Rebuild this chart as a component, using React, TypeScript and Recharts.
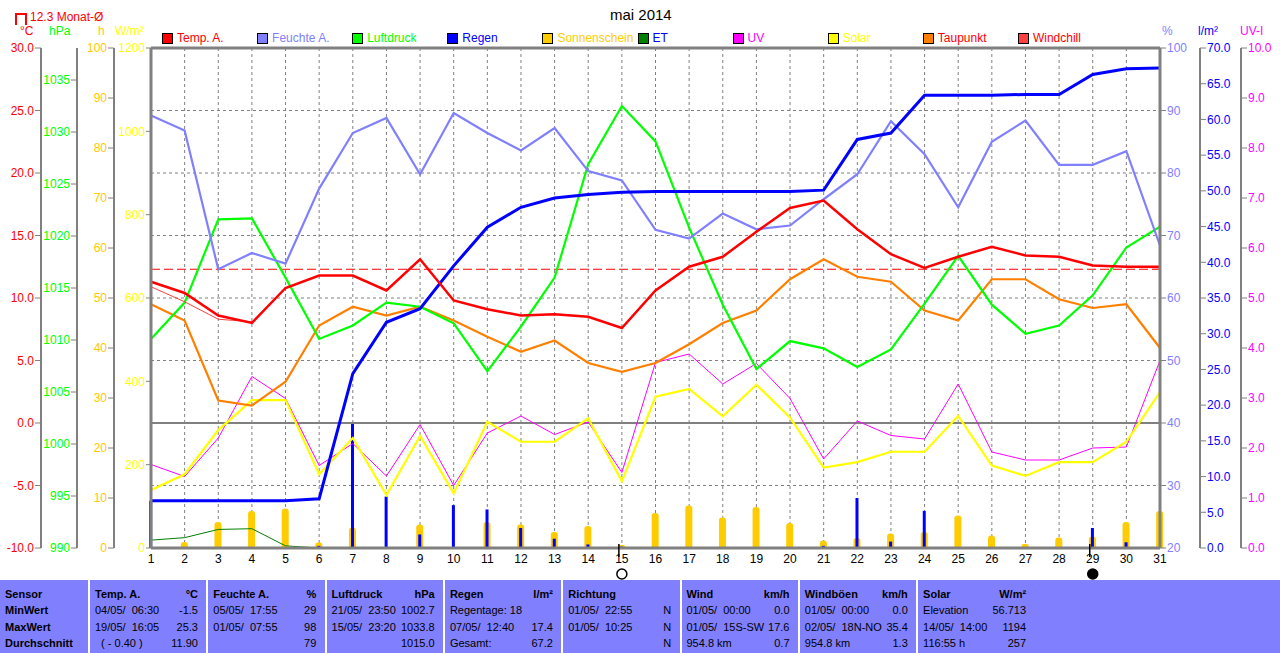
import {
  ComposedChart,
  Line,
  Bar,
  XAxis,
  YAxis,
  CartesianGrid,
  ReferenceLine,
} from "recharts";

// daily values, mai 2014
const DAYS = [1, 2, 3, 4, 5, 6, 7, 8, 9, 10, 11, 12, 13, 14, 15, 16, 17, 18, 19, 20, 21, 22, 23, 24, 25, 26, 27, 28, 29, 30, 31];
const TEMP = [11.3, 10.4, 8.6, 8.0, 10.8, 11.8, 11.8, 10.6, 13.1, 9.8, 9.1, 8.6, 8.7, 8.5, 7.6, 10.6, 12.5, 13.3, 15.3, 17.2, 17.8, 15.5, 13.5, 12.4, 13.3, 14.1, 13.4, 13.3, 12.6, 12.5, 12.5];
const WINDCHILL = [10.9, 9.7, 8.3, 8.1, 10.8, 11.8, 11.8, 10.6, 13.1, 9.8, 9.1, 8.6, 8.7, 8.5, 7.6, 10.6, 12.5, 13.3, 15.3, 17.2, 17.8, 15.5, 13.5, 12.4, 13.3, 14.1, 13.4, 13.3, 12.6, 12.5, 12.4];
const DEWPOINT = [9.5, 8.2, 1.8, 1.4, 3.3, 7.8, 9.3, 8.6, 9.3, 8.2, 6.9, 5.7, 6.6, 4.8, 4.1, 4.8, 6.3, 8.0, 9.0, 11.5, 13.1, 11.7, 11.3, 9.0, 8.2, 11.5, 11.5, 9.9, 9.2, 9.5, 6.0];
const HUMIDITY = [89.2, 86.8, 64.6, 67.2, 65.5, 77.5, 86.4, 88.8, 79.8, 89.6, 86.4, 83.6, 87.2, 80.3, 78.8, 70.9, 69.5, 73.5, 71.0, 71.6, 75.8, 79.8, 88.3, 83.0, 74.5, 85.0, 88.4, 81.3, 81.3, 83.5, 68.4];
const PRESSURE = [1010.1, 1013.6, 1021.6, 1021.7, 1016.0, 1010.1, 1011.4, 1013.6, 1013.2, 1011.6, 1007.0, 1011.3, 1016.0, 1026.9, 1032.5, 1029.1, 1020.8, 1013.4, 1007.2, 1009.9, 1009.2, 1007.4, 1009.1, 1013.5, 1018.1, 1013.4, 1010.6, 1011.4, 1014.3, 1018.9, 1020.9];
const RAIN_TOTAL = [6.6, 6.6, 6.6, 6.6, 6.6, 6.9, 24.4, 31.6, 33.5, 39.5, 44.9, 47.7, 49.0, 49.5, 49.8, 49.9, 49.9, 49.9, 49.9, 49.9, 50.1, 57.2, 58.1, 63.4, 63.4, 63.4, 63.5, 63.5, 66.3, 67.1, 67.2];
const RAIN_DAY = [6.6, 0, 0, 0, 0, 0.3, 17.4, 7.2, 1.9, 6.0, 5.4, 2.8, 1.3, 0.5, 0.2, 0, 0, 0, 0, 0, 0.3, 7.0, 0.9, 5.2, 0, 0, 0.1, 0, 2.8, 0.8, 0];
const SUN_HOURS = [0, 1.2, 5.2, 7.4, 7.9, 1.1, 4.1, 0, 4.7, 0, 5.2, 4.7, 3.2, 4.4, 0.6, 7.0, 8.5, 6.1, 8.2, 5.0, 1.5, 2.0, 2.9, 3.2, 6.5, 2.5, 0.8, 2.1, 2.3, 5.2, 7.4];
const ET = [1.1, 1.45, 2.6, 2.7, 0.3, 0, null, null, null, null, null, null, null, null, null, null, null, null, null, null, null, null, null, null, null, null, null, null, null, null, null];
const UV = [1.67, 1.43, 2.2, 3.43, 2.99, 1.65, 2.09, 1.44, 2.47, 1.25, 2.3, 2.64, 2.27, 2.52, 1.51, 3.71, 3.88, 3.28, 3.69, 2.99, 1.78, 2.54, 2.25, 2.18, 3.28, 1.92, 1.76, 1.76, 2.0, 2.02, 3.75];
const SOLAR = [139, 177, 283, 355, 355, 177, 264, 127, 269, 131, 303, 255, 255, 311, 160, 363, 382, 316, 392, 313, 193, 206, 231, 231, 317, 198, 173, 206, 206, 255, 374];

const MONTH_AVG = 12.3;
const FULL_MOON = 15;
const NEW_MOON = 29;

// tick labels of the seven axes
const TEMP_TICKS = [-10, -5, 0, 5, 10, 15, 20, 25, 30];
const HPA_TICKS = [990, 995, 1000, 1005, 1010, 1015, 1020, 1025, 1030, 1035];
const HOUR_TICKS = [0, 10, 20, 30, 40, 50, 60, 70, 80, 90, 100];
const WATT_TICKS = [0, 200, 400, 600, 800, 1000, 1200];
const HUM_TICKS = [20, 30, 40, 50, 60, 70, 80, 90, 100];
const RAIN_TICKS = [0, 5, 10, 15, 20, 25, 30, 35, 40, 45, 50, 55, 60, 65, 70];
const UV_TICKS = [0, 1, 2, 3, 4, 5, 6, 7, 8, 9, 10];

const LEGEND = [
  { label: "Temp. A.", box: "#ff0000", text: "#ff0000" },
  { label: "Feuchte A.", box: "#8080ff", text: "#8080ff" },
  { label: "Luftdruck", box: "#00ff00", text: "#00ff00" },
  { label: "Regen", box: "#0000ff", text: "#0000ff" },
  { label: "Sonnenschein", box: "#ffcc00", text: "#ffcc00" },
  { label: "ET", box: "#008000", text: "#0000ff" },
  { label: "UV", box: "#ff00ff", text: "#ff00ff" },
  { label: "Solar", box: "#ffff00", text: "#ffff00" },
  { label: "Taupunkt", box: "#ff8000", text: "#ff0000" },
  { label: "Windchill", box: "#ff4040", text: "#ff0000" },
];

const TABLE = [
  { head: "Temp. A.", unit: "°C", rows: [["04/05/  06:30", "-1.5"], ["19/05/  16:05", "25.3"], ["  ( - 0.40 )", "11.90"]] },
  { head: "Feuchte A.", unit: "%", rows: [["05/05/  17:55", "29"], ["01/05/  07:55", "98"], ["", "79"]] },
  { head: "Luftdruck", unit: "hPa", rows: [["21/05/  23:50", "1002.7"], ["15/05/  23:20", "1033.8"], ["", "1015.0"]] },
  { head: "Regen", unit: "l/m²", rows: [["Regentage: 18", ""], ["07/05/  12:40", "17.4"], ["Gesamt:", "67.2"]] },
  { head: "Richtung", unit: "", rows: [["01/05/  22:55", "N"], ["01/05/  10:25", "N"], ["", "N"]] },
  { head: "Wind", unit: "km/h", rows: [["01/05/  00:00", "0.0"], ["01/05/  15S-SW", "17.6"], ["954.8 km", "0.7"]] },
  { head: "Windböen", unit: "km/h", rows: [["01/05/  00:00", "0.0"], ["02/05/  18N-NO", "35.4"], ["954.8 km", "1.3"]] },
  { head: "Solar", unit: "W/m²", rows: [["Elevation", "56.713"], ["14/05/  14:00", "1194"], ["116:55 h", "257"]] },
];
const ROW_NAMES = ["Sensor", "MinWert", "MaxWert", "Durchschnitt"];

const FONT = '"Liberation Sans", Arial, sans-serif';
const GRAY = "#808080";

// axis ids sort in placement order (nearest to the plot first)
const AX_W = "a_w";
const AX_H = "b_h";
const AX_P = "c_p";
const AX_T = "d_t";
const AX_HUM = "e_hum";
const AX_RAIN = "f_rain";
const AX_UV = "g_uv";

const chartData = DAYS.map((day, i) => ({
  day,
  temp: TEMP[i],
  windchill: WINDCHILL[i],
  dew: DEWPOINT[i],
  hum: HUMIDITY[i],
  hpa: PRESSURE[i],
  rainTotal: RAIN_TOTAL[i],
  rainDay: RAIN_DAY[i],
  sun: SUN_HOURS[i],
  et: ET[i],
  uv: UV[i],
  solar: SOLAR[i],
}));

const DayTick = ({ x, y, payload }: any) => {
  const d = payload.value;
  const moon = d === FULL_MOON || d === NEW_MOON;
  return (
    <g>
      <text x={x} y={y} dy={11} textAnchor="middle" fontSize={12} fill="#000" fontFamily={FONT}>
        {d}
      </text>
      {moon && <line x1={x - 3} x2={x - 3} y1={y - 8} y2={y + 5} stroke="#000" strokeWidth={1.5} />}
      {moon && (
        <circle cx={x} cy={y + 22} r={5} fill={d === NEW_MOON ? "#000" : "#fff"} stroke="#000" strokeWidth={1.5} />
      )}
    </g>
  );
};

const tickStyle = (fill: string) => ({ fill, fontSize: 12, fontFamily: FONT });
const axisLine = { stroke: GRAY, strokeWidth: 2 };
const frameLine = { stroke: GRAY, strokeWidth: 3 };
const lineProps = { dot: false, activeDot: false, isAnimationActive: false, xAxisId: "d" } as const;

const Unit = ({ x, color, children }: { x: number; color: string; children: string }) => (
  <div style={{ position: "absolute", left: x, top: 24, fontSize: 12, color, whiteSpace: "nowrap" }}>{children}</div>
);

export default function App() {
  return (
    <div style={{ position: "relative", width: 1280, height: 653, background: "#fff", fontFamily: FONT, overflow: "hidden" }}>
      <style>{"body{margin:0}"}</style>

      <ComposedChart width={1280} height={580} data={chartData} margin={{ top: 48, right: 0, bottom: 0, left: 0 }}>
        <CartesianGrid yAxisId={AX_T} xAxisId="d" stroke={GRAY} strokeDasharray="3 3" />

        <XAxis
          xAxisId="d"
          dataKey="day"
          type="number"
          domain={[1, 31]}
          ticks={DAYS}
          interval={0}
          height={32}
          axisLine={frameLine}
          tickLine={false}
          tickSize={4}
          tickMargin={0}
          tick={DayTick}
        />
        <XAxis xAxisId="r" dataKey="day" type="number" domain={[1, 31]} ticks={DAYS} hide />

        <YAxis yAxisId={AX_W} orientation="left" width={37} domain={[0, 1200]} ticks={WATT_TICKS} interval={0}
          axisLine={frameLine} tickLine={{ stroke: GRAY }} tickSize={5} tickMargin={1} tick={tickStyle("#ffff00")} />
        <YAxis yAxisId={AX_H} orientation="left" width={37} domain={[0, 100]} ticks={HOUR_TICKS} interval={0}
          axisLine={axisLine} tickLine={{ stroke: GRAY }} tickSize={6} tickMargin={1} tick={tickStyle("#ffc800")} />
        <YAxis yAxisId={AX_P} orientation="left" width={36} domain={[990, 1038.08]} ticks={HPA_TICKS} interval={0}
          axisLine={axisLine} tickLine={{ stroke: GRAY }} tickSize={6} tickMargin={1} tick={tickStyle("#00ff00")} />
        <YAxis yAxisId={AX_T} orientation="left" width={41} domain={[-10, 30]} ticks={TEMP_TICKS} interval={0}
          axisLine={axisLine} tickLine={{ stroke: GRAY }} tickSize={6} tickMargin={1} tick={tickStyle("#ff0000")}
          tickFormatter={(v: number) => v.toFixed(1)} />

        <YAxis yAxisId={AX_HUM} orientation="right" width={40} domain={[20, 100]} ticks={HUM_TICKS} interval={0}
          axisLine={frameLine} tickLine={{ stroke: GRAY }} tickSize={6} tickMargin={1} tick={tickStyle("#8080ff")} />
        <YAxis yAxisId={AX_RAIN} orientation="right" width={41} domain={[0, 70]} ticks={RAIN_TICKS} interval={0}
          axisLine={axisLine} tickLine={{ stroke: GRAY }} tickSize={6} tickMargin={1} tick={tickStyle("#0000ff")}
          tickFormatter={(v: number) => v.toFixed(1)} />
        <YAxis yAxisId={AX_UV} orientation="right" width={39} domain={[0, 10]} ticks={UV_TICKS} interval={0}
          axisLine={axisLine} tickLine={{ stroke: GRAY }} tickSize={6} tickMargin={1} tick={tickStyle("#ff00ff")}
          tickFormatter={(v: number) => v.toFixed(1)} />

        <ReferenceLine yAxisId={AX_T} xAxisId="d" y={0} stroke={GRAY} strokeWidth={2} />
        <ReferenceLine yAxisId={AX_T} xAxisId="d" y={MONTH_AVG} stroke="#ff0000" strokeDasharray="9 4" />
        <ReferenceLine yAxisId={AX_T} xAxisId="d" y={30} stroke={GRAY} strokeWidth={3} />

        <Bar xAxisId="d" yAxisId={AX_H} dataKey="sun" fill="#ffcc00" barSize={7} radius={[3, 3, 0, 0]} isAnimationActive={false} />
        <Bar xAxisId="r" yAxisId={AX_RAIN} dataKey="rainDay" fill="#0000ff" barSize={3} isAnimationActive={false} />

        <Line {...lineProps} yAxisId={AX_RAIN} dataKey="et" stroke="#008000" strokeWidth={1} />
        <Line {...lineProps} yAxisId={AX_UV} dataKey="uv" stroke="#ff00ff" strokeWidth={1} />
        <Line {...lineProps} yAxisId={AX_W} dataKey="solar" stroke="#ffff00" strokeWidth={2.2} />
        <Line {...lineProps} yAxisId={AX_T} dataKey="dew" stroke="#ff8000" strokeWidth={2.2} />
        <Line {...lineProps} yAxisId={AX_P} dataKey="hpa" stroke="#00ff00" strokeWidth={2.2} />
        <Line {...lineProps} yAxisId={AX_HUM} dataKey="hum" stroke="#8080ff" strokeWidth={2.2} />
        <Line {...lineProps} yAxisId={AX_RAIN} dataKey="rainTotal" stroke="#0000ff" strokeWidth={3} />
        <Line {...lineProps} yAxisId={AX_T} dataKey="windchill" stroke="#ff4040" strokeWidth={1} />
        <Line {...lineProps} yAxisId={AX_T} dataKey="temp" stroke="#ff0000" strokeWidth={2.5} />
      </ComposedChart>

      {/* titles and axis units */}
      <div style={{ position: "absolute", left: 610, top: 6, fontSize: 15, color: "#000" }}>mai 2014</div>
      <div style={{ position: "absolute", left: 15, top: 13, width: 8, height: 10, borderTop: "2px solid #ff0000", borderLeft: "2px solid #ff0000", borderRight: "2px solid #ff0000" }} />
      <div style={{ position: "absolute", left: 30, top: 10, fontSize: 12, color: "#ff0000" }}>12.3 Monat-Ø</div>
      <Unit x={20} color="#ff0000">°C</Unit>
      <Unit x={49} color="#00ff00">hPa</Unit>
      <Unit x={98} color="#ffc800">h</Unit>
      <Unit x={115} color="#ffff00">W/m²</Unit>
      <Unit x={1162} color="#8080ff">%</Unit>
      <Unit x={1198} color="#0000ff">l/m²</Unit>
      <Unit x={1240} color="#ff00ff">UV-I</Unit>

      {/* legend */}
      {LEGEND.map((item, i) => (
        <div key={item.label} style={{ position: "absolute", left: 162 + i * 95.1, top: 31, display: "flex", alignItems: "center", whiteSpace: "nowrap" }}>
          <span style={{ width: 9, height: 9, background: item.box, border: "1px solid #000", marginRight: 4 }} />
          <span style={{ fontSize: 12, color: item.text }}>{item.label}</span>
        </div>
      ))}

      {/* statistics table */}
      <div style={{ position: "absolute", left: 0, top: 580, width: 1280, height: 73, background: "#8080ff", fontSize: 11, color: "#000" }}>
        <div style={{ position: "absolute", left: 5, top: 6, lineHeight: "16.3px", fontWeight: "bold" }}>
          {ROW_NAMES.map((r) => <div key={r}>{r}</div>)}
        </div>
        {TABLE.map((col, i) => {
          const left = 88 + i * 118.3;
          return (
            <div key={col.head} style={{ position: "absolute", left, top: 0, width: 116, height: 73, borderLeft: "2px solid #fff", boxSizing: "border-box", padding: "6px 6px 0 5px", lineHeight: "16.3px" }}>
              <div style={{ display: "flex", justifyContent: "space-between", fontWeight: "bold" }}>
                <span>{col.head}</span>
                <span>{col.unit}</span>
              </div>
              {col.rows.map((r, j) => (
                <div key={j} style={{ display: "flex", justifyContent: "space-between", whiteSpace: "pre" }}>
                  <span>{r[0]}</span>
                  <span>{r[1]}</span>
                </div>
              ))}
            </div>
          );
        })}
      </div>
    </div>
  );
}
